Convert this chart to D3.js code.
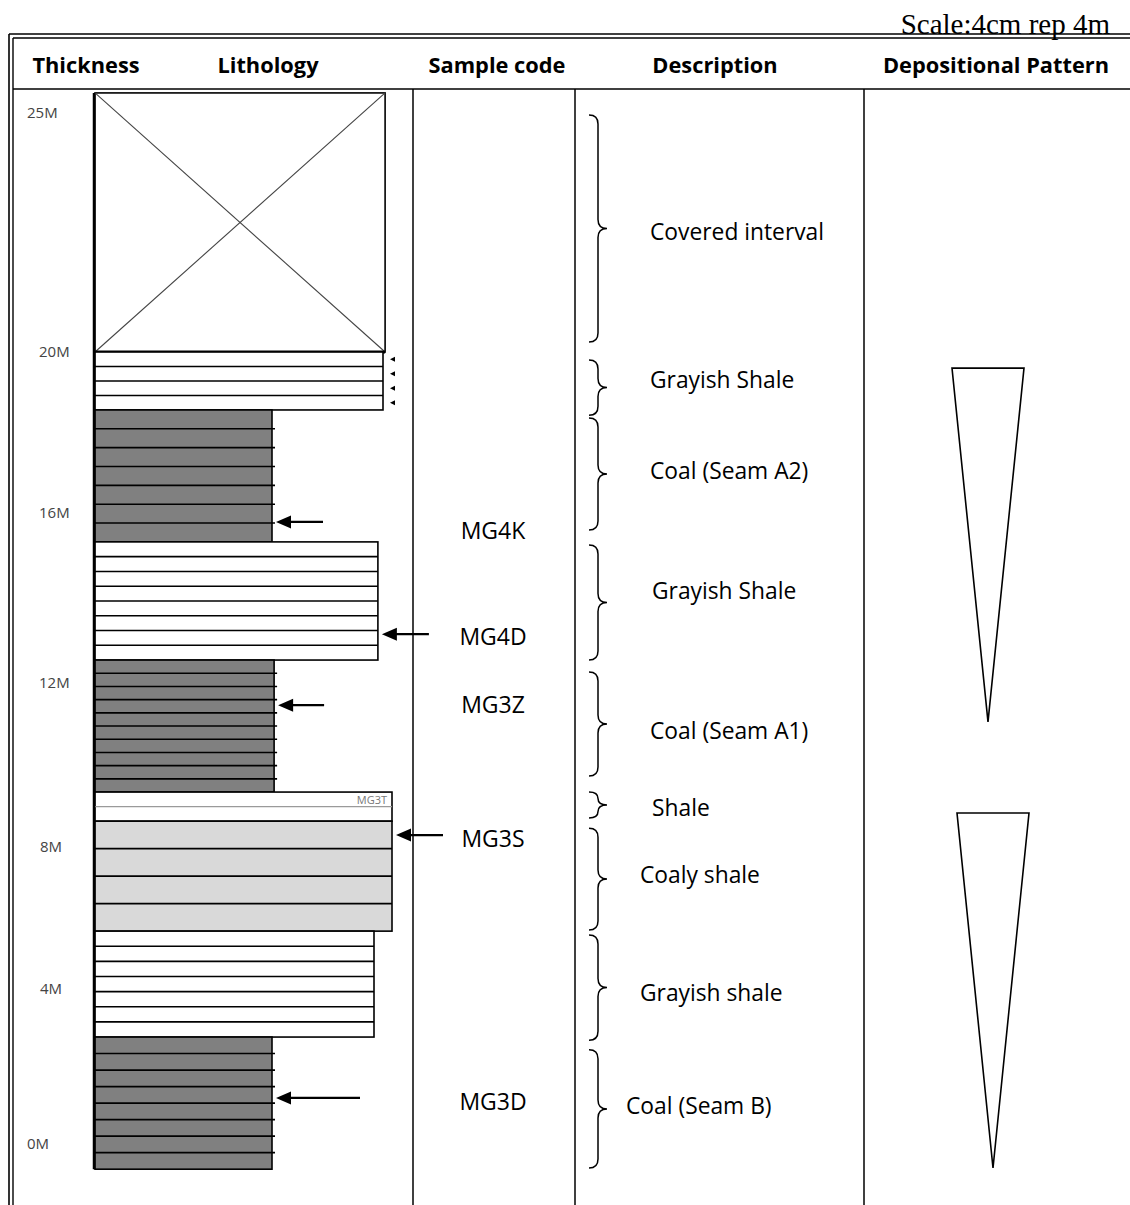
<!DOCTYPE html>
<html>
<head>
<meta charset="utf-8">
<script src="https://cdn.jsdelivr.net/npm/d3@7"></script>
<style>
  html, body { margin: 0; padding: 0; background: #fff; }
  svg { display: block; }
</style>
</head>
<body>
<svg id="log" width="1130" height="1205"></svg>
<script>
// ---- Depth axis (metres) ----
const depthTicks = [0, 4, 8, 12, 16, 20, 25];
const depthTickLabels = ["0M", "4M", "8M", "12M", "16M", "20M", "25M"];

// ---- Beds, top to bottom ----
const bedLithology = ["covered", "shale", "coal", "shale", "coal", "shale", "coalyShale", "shale", "coal"];
const bedTop       = [25.42, 20.00, 18.56, 15.32, 12.54, 9.34, 8.63, 5.63, 2.76];
const bedBase      = [20.00, 18.56, 15.32, 12.54, 9.34, 8.63, 5.63, 2.76, -0.65];
const bedProfile   = [9.67, 9.60, 5.90, 9.43, 5.97, 9.90, 9.90, 9.30, 5.90];
const bedLaminae   = [0, 3, 6, 7, 9, 1, 3, 6, 7];

// ---- Samples ----
const sampleCodes       = ["MG4K", "MG4D", "MG3Z", "MG3S", "MG3D"];
const sampleDepth       = [15.79, 13.15, 11.46, 8.29, 1.19];
const sampleLabelDepth  = [15.58, 13.08, 11.46, 8.20, 1.08];

// ---- Descriptions ----
const descLabels     = ["Covered interval", "Grayish Shale", "Coal (Seam A2)", "Grayish Shale",
                        "Coal (Seam A1)", "Shale", "Coaly shale", "Grayish shale", "Coal (Seam B)"];
const descTop        = [24.96, 19.80, 18.36, 15.25, 12.26, 9.34, 8.46, 5.52, 2.43];
const descBase       = [20.21, 18.43, 15.60, 12.54, 9.73, 8.71, 5.66, 2.68, -0.62];
const descLabelDepth = [22.51, 19.30, 17.04, 14.16, 10.83, 8.95, 7.21, 3.90, 0.98];

// ---- Depositional pattern (fining-upward wedges) ----
const trendTop  = [19.60, 8.83];
const trendBase = [11.05, -0.62];

// ---- Header ----
const headers = ["Thickness", "Lithology", "Sample code", "Description", "Depositional Pattern"];
const scaleNote = "Scale:4cm rep 4m";

// ================= drawing =================
const svg = d3.select("#log");
const sans = "'Open Sans', Lato, sans-serif";

// Depth scale (drawn log is not uniformly spaced between labelled depths)
const y = d3.scaleLinear().domain(depthTicks).range([1144, 989, 847, 683, 513, 352, 113]);
// Lithology profile width scale
const x = d3.scaleLinear().domain([0, 10]).range([95, 395]);

const colX = [413, 575, 864];
const headerCenters = [86, 268, 497, 715, 996];
const descX = [650, 650, 650, 652, 650, 652, 640, 640, 626];
const arrowLen = [47, 47, 46, 47, 84];
const trendCenter = [988, 993];
const trendHalf = 36;

const fills = { covered: "#ffffff", shale: "#ffffff", coal: "#808080", coalyShale: "#d9d9d9" };

// Frame: double rule at top and left
const frame = svg.append("g").attr("stroke", "#000").attr("fill", "none");
frame.append("line").attr("x1", 13).attr("x2", 1130).attr("y1", 38).attr("y2", 38).attr("stroke-width", 1.4);
frame.append("line").attr("x1", 9).attr("x2", 9).attr("y1", 34).attr("y2", 1205).attr("stroke-width", 1.6);
frame.append("line").attr("x1", 13).attr("x2", 13).attr("y1", 38).attr("y2", 1205).attr("stroke-width", 1.4);
frame.append("line").attr("x1", 13).attr("x2", 1130).attr("y1", 89).attr("y2", 89).attr("stroke-width", 1.5);
frame.selectAll("line.col").data(colX).join("line").attr("class", "col")
  .attr("x1", d => d).attr("x2", d => d).attr("y1", 89).attr("y2", 1205).attr("stroke-width", 1.5);

// Scale note (sits on the top rule)
svg.append("text").attr("x", 1110).attr("y", 34).attr("text-anchor", "end")
  .attr("font-family", "'Liberation Serif', 'Times New Roman', serif").attr("font-size", 29)
  .attr("fill", "#000").text(scaleNote);
svg.append("line").attr("x1", 9).attr("x2", 1130).attr("y1", 34).attr("y2", 34)
  .attr("stroke", "#000").attr("stroke-width", 1.6);

// Header labels
svg.append("g").selectAll("text").data(headers).join("text")
  .attr("x", (d, i) => headerCenters[i]).attr("y", 73).attr("text-anchor", "middle")
  .attr("font-family", sans).attr("font-weight", 700).attr("font-size", 21.8).attr("fill", "#000")
  .text(d => d);

// Depth labels
svg.append("g").selectAll("text").data(depthTicks).join("text")
  .attr("x", d => (d === 0 || d === 25) ? 27 : (d >= 12 ? 39 : 40))
  .attr("y", d => y(d)).attr("dy", "0.35em")
  .attr("font-family", sans).attr("font-size", 15).attr("fill", "#444")
  .text((d, i) => depthTickLabels[i]);

// Beds
const beds = bedLithology.map((lith, i) => ({
  lith, top: bedTop[i], base: bedBase[i], profile: bedProfile[i], laminae: bedLaminae[i], i
}));

const bedG = svg.append("g");
beds.forEach(b => {
  const y0 = y(b.top), y1 = y(b.base), x0 = x(0), x1 = x(b.profile);
  const g = bedG.append("g");
  g.append("rect").attr("x", x0).attr("y", y0).attr("width", x1 - x0).attr("height", y1 - y0)
    .attr("fill", fills[b.lith]).attr("stroke", "#000").attr("stroke-width", 1.6);
  if (b.lith === "covered") {
    g.append("line").attr("x1", x0).attr("y1", y0).attr("x2", x1).attr("y2", y1)
      .attr("stroke", "#444").attr("stroke-width", 1.1);
    g.append("line").attr("x1", x1).attr("y1", y0).attr("x2", x0).attr("y2", y1)
      .attr("stroke", "#444").attr("stroke-width", 1.1);
    g.append("line").attr("x1", x0).attr("x2", x1).attr("y1", y1).attr("y2", y1)
      .attr("stroke", "#000").attr("stroke-width", 3);
  }
  const n = b.laminae;
  const step = (y1 - y0) / (n + 1);
  const lam = d3.range(1, n + 1).map(k => y0 + k * step);
  g.selectAll("line.lam").data(lam).join("line").attr("class", "lam")
    .attr("x1", x0).attr("x2", b.lith === "coal" ? x1 + 3 : x1)
    .attr("y1", d => d).attr("y2", d => d)
    .attr("stroke", n === 1 ? "#9a9a9a" : "#000").attr("stroke-width", n === 1 ? 1.4 : 1.6);
  // small side markers on the upper shale bands
  if (b.i === 1) {
    const centres = d3.range(0, n + 1).map(k => y0 + (k + 0.5) * step);
    g.selectAll("path.mk").data(centres).join("path").attr("class", "mk")
      .attr("d", d => `M${x1 + 7},${d} L${x1 + 12},${d - 2.5} L${x1 + 12},${d + 2.5} Z`)
      .attr("fill", "#000");
  }
  // faint sample tag inside the thin shale bed
  if (b.i === 5) {
    const cid = "clip-tag";
    svg.append("clipPath").attr("id", cid).append("rect")
      .attr("x", x0).attr("y", y0).attr("width", x1 - x0).attr("height", step - 1);
    g.append("text").attr("x", x1 - 5).attr("y", y0 + 12).attr("text-anchor", "end")
      .attr("clip-path", `url(#${cid})`)
      .attr("font-family", sans).attr("font-size", 11).attr("fill", "#777").text("MG3T");
  }
});
// continuous left edge of the column
bedG.append("line").attr("x1", x(0) - 1).attr("x2", x(0) - 1)
  .attr("y1", y(bedTop[0])).attr("y2", y(bedBase[bedBase.length - 1]))
  .attr("stroke", "#000").attr("stroke-width", 2.5);

// Sample arrows and codes
function profileAt(depth) {
  const b = beds.find(d => depth <= d.top && depth >= d.base);
  return b ? b.profile : 0;
}
const arrowG = svg.append("g");
sampleCodes.forEach((code, i) => {
  const yy = y(sampleDepth[i]);
  const hx = x(profileAt(sampleDepth[i])) + 4;
  arrowG.append("line").attr("x1", hx + 8).attr("x2", hx + arrowLen[i]).attr("y1", yy).attr("y2", yy)
    .attr("stroke", "#000").attr("stroke-width", 2.2);
  arrowG.append("path").attr("d", `M${hx},${yy} L${hx + 15},${yy - 6.5} L${hx + 15},${yy + 6.5} Z`).attr("fill", "#000");
  arrowG.append("text").attr("x", 493).attr("y", y(sampleLabelDepth[i])).attr("dy", "0.35em")
    .attr("text-anchor", "middle").attr("font-family", sans).attr("font-size", 23).attr("fill", "#000")
    .text(code);
});

// Description braces and labels
const braceG = svg.append("g");
descLabels.forEach((lab, i) => {
  const y0 = y(descTop[i]), y1 = y(descBase[i]), ym = (y0 + y1) / 2;
  const xa = 589, xb = 598, xc = 607;
  const r = Math.min(9, (y1 - y0) / 4);
  const p = `M${xa},${y0} Q${xb},${y0} ${xb},${y0 + r} L${xb},${ym - r} Q${xb},${ym} ${xc},${ym} ` +
            `Q${xb},${ym} ${xb},${ym + r} L${xb},${y1 - r} Q${xb},${y1} ${xa},${y1}`;
  braceG.append("path").attr("d", p).attr("fill", "none").attr("stroke", "#000").attr("stroke-width", 1.5);
  braceG.append("text").attr("x", descX[i]).attr("y", y(descLabelDepth[i])).attr("dy", "0.35em")
    .attr("font-family", sans).attr("font-size", 22.8).attr("fill", "#000").text(lab);
});

// Depositional pattern wedges
svg.append("g").selectAll("path").data(trendTop).join("path")
  .attr("d", (d, i) => {
    const c = trendCenter[i];
    return `M${c - trendHalf},${y(d)} L${c + trendHalf},${y(d)} L${c},${y(trendBase[i])} Z`;
  })
  .attr("fill", "#fff").attr("stroke", "#000").attr("stroke-width", 1.6).attr("stroke-linejoin", "miter");
</script>
</body>
</html>
